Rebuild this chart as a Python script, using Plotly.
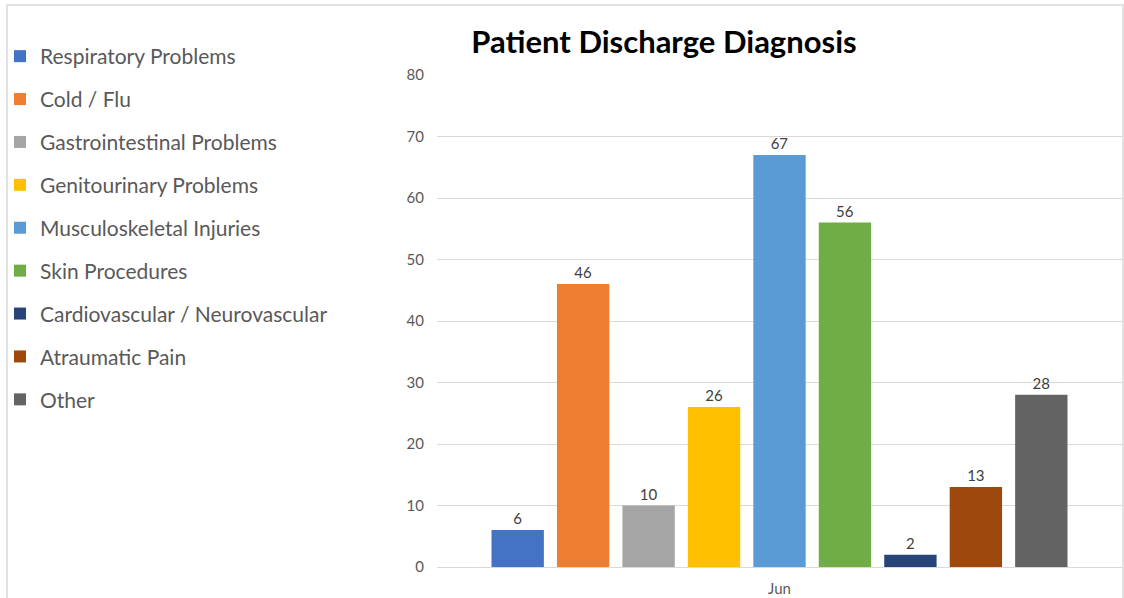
import plotly.graph_objects as go

categories = ["Jun"]
series_names = [
    "Respiratory Problems",
    "Cold / Flu",
    "Gastrointestinal Problems",
    "Genitourinary Problems",
    "Musculoskeletal Injuries",
    "Skin Procedures",
    "Cardiovascular / Neurovascular",
    "Atraumatic Pain",
    "Other",
]
series_values = [6, 46, 10, 26, 67, 56, 2, 13, 28]
series_colors = [
    "#4472C4", "#ED7D31", "#A5A5A5", "#FFC000", "#5B9BD5",
    "#70AD47", "#264478", "#9E480E", "#636363",
]
y_ticks = [0, 10, 20, 30, 40, 50, 60, 70, 80]

W, H = 1124, 598
L, R, T, B = 437, 2, 75, 31
pw, ph = W - L - R, H - T - B
FONT = "Lato, Open Sans, sans-serif"

fig = go.Figure()
for i, (name, val, col) in enumerate(zip(series_names, series_values, series_colors)):
    fig.add_trace(go.Bar(
        x=categories, y=[val], name=name, marker=dict(color=col, line=dict(width=0)),
        text=[str(val)], textposition="outside", cliponaxis=False,
        textfont=dict(family=FONT, size=15, color="#404040"),
        legendgroup=f"g{i}",
    ))

fig.update_layout(
    width=W, height=H,
    margin=dict(l=L, r=R, t=T, b=B),
    paper_bgcolor="white", plot_bgcolor="white",
    barmode="group", bargap=0.14, bargroupgap=0.2,
    font=dict(family=FONT, color="#595959"),
    title=dict(text="<b>Patient Discharge Diagnosis</b>", x=664 / W, xref="container",
               xanchor="center", y=1 - 42 / H, yref="container", yanchor="middle",
               font=dict(size=31, color="black", family=FONT)),
    showlegend=True,
    legend=dict(x=0, xref="container", xanchor="left", y=1 - 36 / H, yref="container",
                yanchor="top", traceorder="grouped", tracegroupgap=12.6, maxheight=1,
                font=dict(size=21, color="#595959"), bgcolor="rgba(0,0,0,0)"),
    yaxis=dict(range=[0, 80], tickvals=y_ticks, showgrid=True, gridcolor="#D9D9D9",
               gridwidth=1, zeroline=False, showline=False, ticks="",
               tickfont=dict(size=15, color="#595959"), ticklabelstandoff=12),
    xaxis=dict(showgrid=False, zeroline=False, showline=True, linecolor="#D9D9D9",
               ticks="", tickfont=dict(size=15, color="#595959"), ticklabelstandoff=8),
    shapes=[dict(type="rect", xref="paper", yref="paper",
                 x0=(7 - L) / pw, x1=(1123 - L) / pw,
                 y0=(567 - 620) / ph, y1=(567 - 5) / ph,
                 line=dict(color="#D9D9D9", width=1.5), fillcolor="rgba(0,0,0,0)", layer="below")],
)

fig.write_html("out.html", config={"displayModeBar": False},
               post_script="document.body.style.margin='0';")
